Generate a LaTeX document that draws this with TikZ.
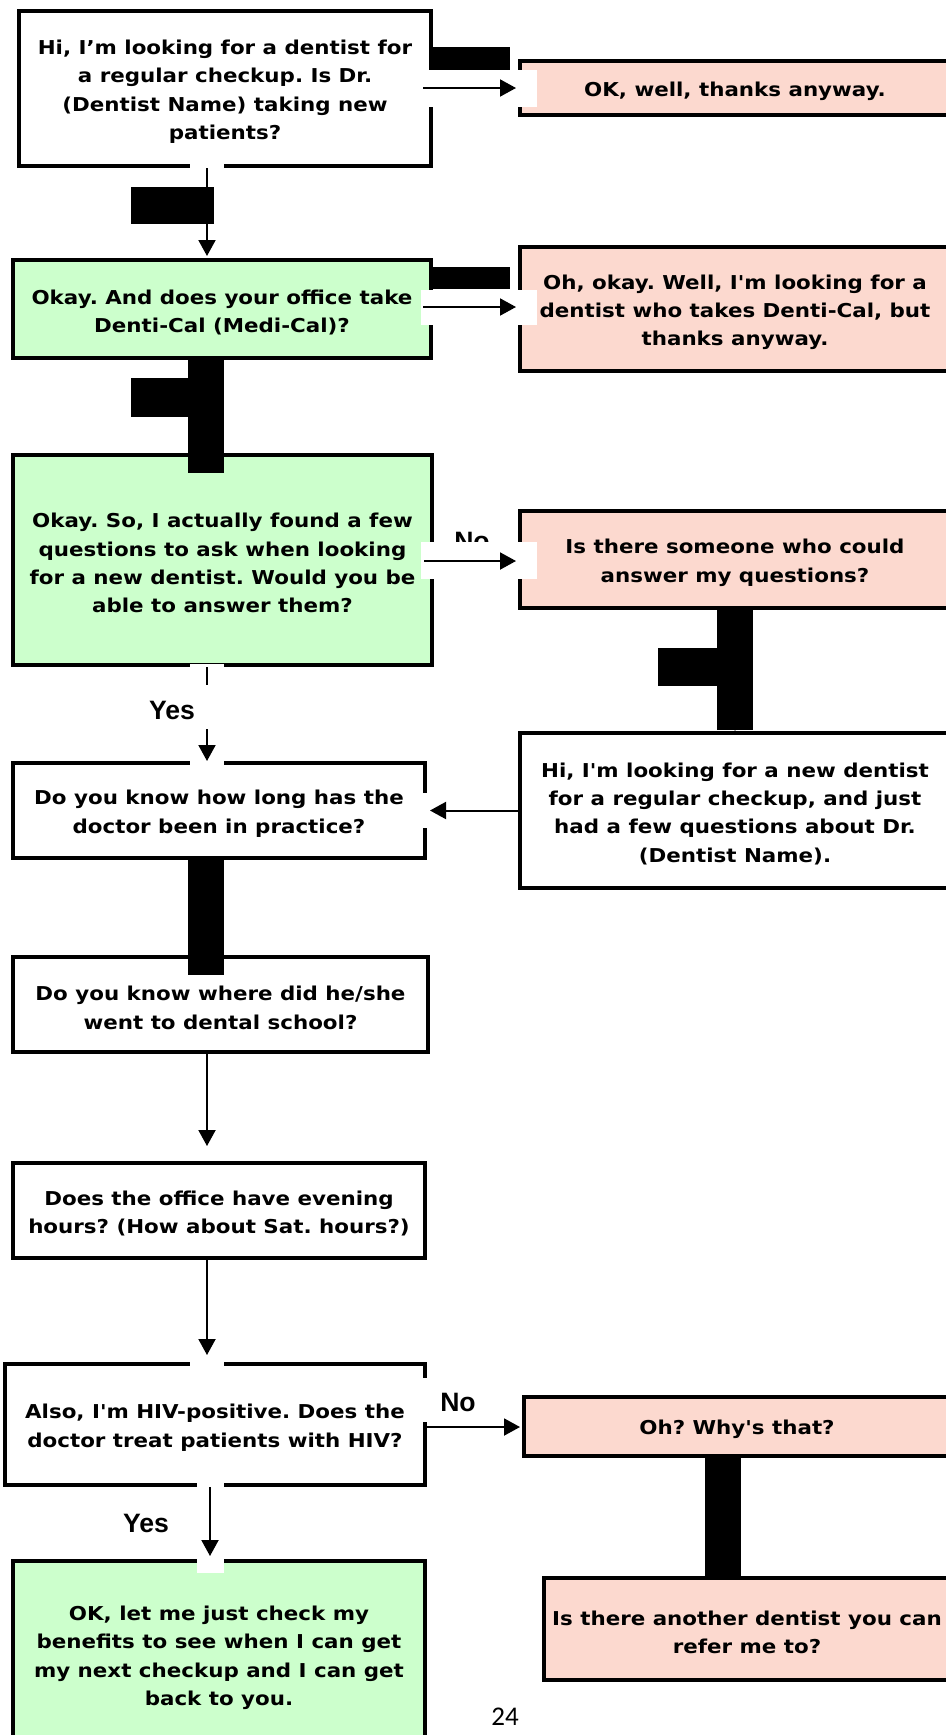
\documentclass[tikz,border=0pt]{standalone}
\usepackage{fontspec}
\newfontfamily\boxfont[FakeStretch=1.12]{DejaVu Sans}
\newfontfamily\lblfont{Liberation Sans}
\newfontfamily\numfont{Carlito}
\usetikzlibrary{arrows.meta}
\definecolor{pinkfill}{RGB}{252,217,207}
\definecolor{greenfill}{RGB}{204,255,204}
\tikzset{
  box/.style={draw=black, line width=2pt, inner sep=0pt},
  btext/.style={inner sep=0pt, align=center, yshift=-1.6pt,
    font=\boxfont\bfseries\frenchspacing\fontsize{9.55}{14.2}\selectfont},
  whitebox/.style={box, fill=white},
  greenbox/.style={box, fill=greenfill},
  pinkbox/.style={box, fill=pinkfill},
  arr/.style={line width=1pt, -{Triangle[length=8pt,width=8.5pt]}},
  lbl/.style={inner sep=0pt, font=\lblfont\bfseries\fontsize{13.3}{15}\selectfont},
  redact/.style={fill=black},
  patch/.style={fill=white}
}
\begin{document}
\begin{tikzpicture}[x=0.5pt,y=-0.5pt]
\useasboundingbox (0,0) rectangle (946,1735);
\clip (0,0) rectangle (946,1735);
\fill[white] (0,0) rectangle (946,1735);

% boxes
\node[whitebox, minimum width=206pt, minimum height=77.5pt, label={[btext]center:{Hi, I’m looking for a dentist for\\a regular checkup. Is Dr.\\(Dentist Name) taking new\\patients?}}] (b1) at (225,88.5) {};
\node[pinkbox, minimum width=215pt, minimum height=27pt, label={[btext]center:{OK, well, thanks anyway.}}] (ok) at (735,88) {};
\node[greenbox, minimum width=209pt, minimum height=49pt, label={[btext]center:{Okay. And does your office take\\Denti-Cal (Medi-Cal)?}}] (b2) at (222,309) {};
\node[pinkbox, minimum width=215pt, minimum height=62pt, label={[btext]center:{Oh, okay. Well, I'm looking for a\\dentist who takes Denti-Cal, but\\thanks anyway.}}] (dc) at (735,309) {};
\node[greenbox, minimum width=209.5pt, minimum height=105pt, label={[btext]center:{Okay. So, I actually found a few\\questions to ask when looking\\for a new dentist. Would you be\\able to answer them?}}] (b3) at (222.5,560) {};
\node[pinkbox, minimum width=215pt, minimum height=48.5pt, label={[btext]center:{Is there someone who could\\answer my questions?}}] (sq) at (735,559.5) {};
\node[whitebox, minimum width=215pt, minimum height=77.5pt, label={[btext]center:{Hi, I'm looking for a new dentist\\for a regular checkup, and just\\had a few questions about Dr.\\(Dentist Name).}}] (hi2) at (735,810.5) {};
\node[whitebox, minimum width=206pt, minimum height=47.5pt, label={[btext]center:{Do you know how long has the\\doctor been in practice?}}] (b4) at (219,810.5) {};
\node[whitebox, minimum width=207.5pt, minimum height=47.5pt, label={[btext]center:{Do you know where did he/she\\went to dental school?}}] (b5) at (220.5,1004.5) {};
\node[whitebox, minimum width=206pt, minimum height=47.5pt, label={[btext]center:{Does the office have evening\\hours? (How about Sat. hours?)}}] (b6) at (219,1210.5) {};
\node[whitebox, minimum width=210pt, minimum height=60.5pt, label={[btext]center:{Also, I'm HIV-positive. Does the\\doctor treat patients with HIV?}}] (b7) at (215,1424.5) {};
\node[pinkbox, minimum width=213pt, minimum height=29.5pt, label={[btext]center:{Oh? Why's that?}}] (why) at (737,1426.5) {};
\node[pinkbox, minimum width=203pt, minimum height=51pt, label={[btext]center:{Is there another dentist you can\\refer me to?}}] (ref) at (747,1629) {};
\node[greenbox, minimum width=206pt, minimum height=93.5pt, label={[btext]center:{OK, let me just check my\\benefits to see when I can get\\my next checkup and I can get\\back to you.}}] (b8) at (219,1654.5) {};

% partly hidden label
\node[lbl] (no1) at (472,541) {No};

% white patches
\fill[patch] (420,70) rectangle (537,107);
\fill[patch] (421,290) rectangle (537,325);
\fill[patch] (421,542) rectangle (537,579);
\fill[patch] (190,163) rectangle (224,171);
\fill[patch] (190,664) rectangle (224,671);
\fill[patch] (190,757) rectangle (224,765);
\fill[patch] (419,793) rectangle (430,828);
\fill[patch] (190,1357) rectangle (224,1367);
\fill[patch] (419,1378) rectangle (430,1422);
\fill[patch] (197,1482) rectangle (224,1490);
\fill[patch] (197,1555) rectangle (224,1573);

% helper columns
\coordinate (vx) at (207,0);
\coordinate (vy) at (210,0);
\coordinate (vr) at (735,0);
\coordinate (vs) at (723,0);

% connectors
\draw[arr, shorten <=-5pt, shorten >=1pt] (ok.west -| b1.east) -- (ok.west);
\draw[arr, shorten >=1pt] (b1.south -| vx) -- (b2.north -| vx);
\draw[arr, shorten <=-5pt, shorten >=1pt] (b2.east |- 0,307) -- (dc.west |- 0,307);
\draw[arr] (b2.south -| vx) -- (b3.north -| vx);
\draw[arr, shorten <=-5pt, shorten >=1pt] (b3.east |- 0,561) -- (sq.west |- 0,561);
\draw[arr] (b3.south -| vx) -- (b4.north -| vx);
\draw[arr] (sq.south -| vr) -- (hi2.north -| vr);
\draw[arr, shorten >=1.5pt] (hi2.west) -- (b4.east);
\draw[arr] (b4.south -| vx) -- (b5.north -| vx);
\draw[arr, shorten >=7.5pt] (b5.south -| vx) -- (b6.north -| vx);
\draw[arr, shorten >=3.5pt] (b6.south -| vx) -- (b7.north -| vx);
\draw[arr, shorten >=1pt] (b7.east |- 0,1427) -- (why.west |- 0,1427);
\draw[arr, shorten >=1.5pt] (b7.south -| vy) -- (b8.north -| vy);
\draw[arr] (why.south -| vs) -- (ref.north -| vs);

% gap for Yes label
\fill[patch] (197,685) rectangle (218,729);
\node[lbl] (yes1) at (172,710) {Yes};
\node[lbl] (no2) at (458,1402) {No};
\node[lbl] (yes2) at (146,1523) {Yes};

% redaction blocks
\fill[redact] (433,47) rectangle (510,70);
\fill[redact] (131,187) rectangle (214,224);
\fill[redact] (433,267) rectangle (510,289);
\fill[redact] (188,356) rectangle (224,473);
\fill[redact] (131,378) rectangle (224,417);
\fill[redact] (717,606) rectangle (753,730);
\fill[redact] (658,648) rectangle (753,686);
\fill[redact] (188,860) rectangle (224,975);
\fill[redact] (705,1458) rectangle (741,1577);

% page number
\node[inner sep=0pt, font=\numfont\fontsize{13.5}{15}\selectfont] (pg) at (505,1717) {24};
\end{tikzpicture}
\end{document}
